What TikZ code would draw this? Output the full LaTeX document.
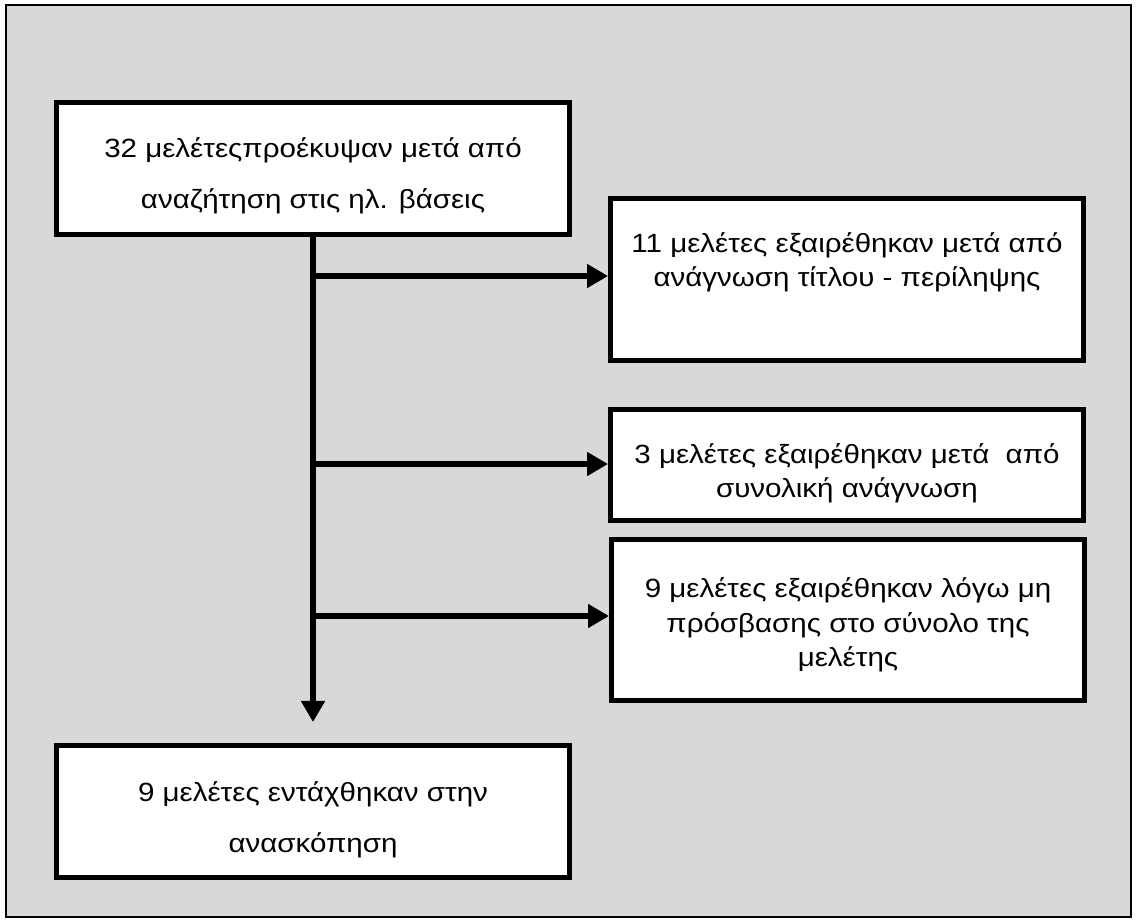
\documentclass[tikz,border=0pt]{standalone}
\usepackage{fontspec}
\setmainfont[FakeStretch=1.12]{Liberation Sans}
\usetikzlibrary{arrows.meta}
\definecolor{panel}{RGB}{216,216,216}
\tikzset{
    box/.style = {rectangle, draw=black, line width=2.8pt, fill=white, align=center, inner sep=0pt, text depth=0pt, font=\fontsize{15}{19.8}\selectfont},
    mainbox/.style = {box, minimum width=10.26cm, minimum height=2.64cm, font=\fontsize{15}{29}\selectfont},
    exclbox/.style = {box, minimum width=9.46cm},
    arrow/.style = {line width=3pt, -{Triangle[length=12pt, width=13pt]}}
}
\begin{document}
\begin{tikzpicture}[x=0.02cm, y=-0.02cm]
\useasboundingbox (0,0) rectangle (1137,921);
\draw [fill=panel, line width=1pt] (6,5) rectangle (1131,917);

\node (start) [mainbox, text height=45.9pt] at (313,168.5) {32 μελέτεςπροέκυψαν μετά από\\αναζήτηση στις ηλ. βάσεις};
\node (excl1) [exclbox, minimum height=3.24cm, text height=8.5pt] at (847,279.5) {11 μελέτες εξαιρέθηκαν μετά από\\ανάγνωση τίτλου - περίληψης};
\node (excl2) [exclbox, minimum height=2.22cm, text height=37.4pt] at (847,465) {3 μελέτες εξαιρέθηκαν μετά \ από\\συνολική ανάγνωση};
\node (excl3) [exclbox, minimum height=3.22cm, text height=53.3pt] at (848,620) {9 μελέτες εξαιρέθηκαν λόγω μη\\πρόσβασης στο σύνολο της\\μελέτης};
\node (incl) [mainbox, text height=47pt] at (313,811.5) {9 μελέτες εντάχθηκαν στην\\ανασκόπηση};

\coordinate (b1) at (313,276);
\coordinate (b2) at (313,464);
\coordinate (b3) at (313,616);

\draw [arrow] (start.south) -- ([yshift=0.42cm]incl.north);
\draw [arrow] (b1) -- (b1 -| excl1.west);
\draw [arrow] (b2) -- (b2 -| excl2.west);
\draw [arrow] (b3) -- (b3 -| excl3.west);
\end{tikzpicture}
\end{document}
